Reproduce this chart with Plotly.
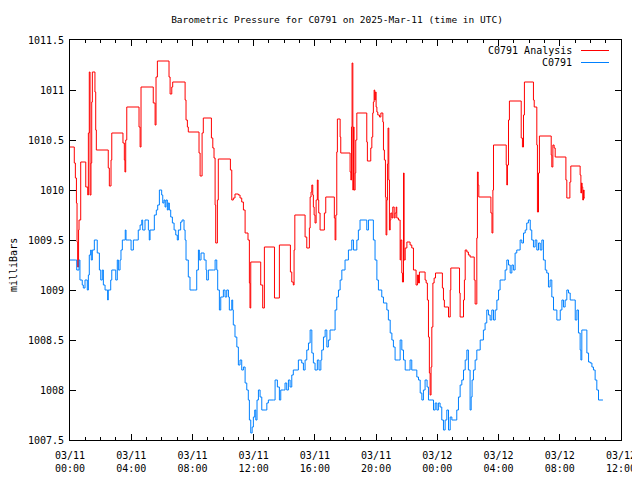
import pandas as pd
import plotly.graph_objects as go

# Hours since 2025-03-11 00:00 UTC and pressure (mb)
blue_hours = [0.0, 0.37, 0.44, 0.59, 0.65, 0.80, 0.87, 0.98, 1.13, 1.20, 1.26, 1.35, 1.39, 1.46, 1.59, 1.72, 1.78, 1.92, 2.01, 2.11,
              2.18, 2.29, 2.46, 2.50, 2.61, 2.66, 2.73, 2.88, 2.99, 3.09, 3.16, 3.27, 3.33, 3.42, 3.61, 3.66, 3.88, 3.99, 4.14, 4.29,
              4.46, 4.58, 4.69, 4.75, 4.90, 5.05, 5.12, 5.18, 5.23, 5.51, 5.64, 5.73, 5.84, 5.99, 6.06, 6.14, 6.21, 6.27, 6.36, 6.42,
              6.49, 6.58, 6.69, 6.80, 6.91, 7.01, 7.08, 7.23, 7.32, 7.45, 7.52, 7.58, 7.73, 7.84, 8.12, 8.28, 8.39, 8.45, 8.56, 8.76,
              8.89, 8.93, 9.04, 9.37, 9.48, 9.59, 9.65, 9.76, 9.85, 10.02, 10.13, 10.24, 10.35, 10.41, 10.57, 10.63, 10.67, 10.78, 10.90, 11.00,
              11.11, 11.22, 11.33, 11.44, 11.55, 11.65, 11.72, 11.81, 11.90, 11.98, 12.07, 12.14, 12.22, 12.31, 12.42, 12.53, 12.75, 12.86, 12.96, 13.29,
              13.40, 13.55, 13.68, 13.77, 13.94, 14.05, 14.16, 14.27, 14.38, 14.49, 14.59, 14.92, 15.14, 15.25, 15.36, 15.47, 15.58, 15.69, 15.80, 15.90,
              16.01, 16.16, 16.27, 16.39, 16.45, 16.56, 16.67, 16.78, 16.88, 16.99, 17.21, 17.32, 17.43, 17.54, 17.65, 17.76, 17.97, 18.19, 18.41, 18.52,
              18.74, 18.84, 18.95, 19.28, 19.39, 19.50, 19.72, 19.82, 19.93, 20.05, 20.15, 20.37, 20.48, 20.70, 20.80, 20.92, 21.03, 21.13, 21.24, 21.46,
              21.57, 21.68, 21.79, 21.90, 22.11, 22.22, 22.33, 22.55, 22.66, 22.77, 22.88, 22.99, 23.09, 23.20, 23.33, 23.42, 23.64, 23.75, 23.86, 23.97,
              24.07, 24.18, 24.29, 24.40, 24.51, 24.62, 24.73, 24.84, 24.95, 25.16, 25.27, 25.38, 25.49, 25.60, 25.71, 25.82, 25.93, 26.03, 26.14, 26.21,
              26.27, 26.36, 26.47, 26.58, 26.80, 27.01, 27.12, 27.23, 27.34, 27.45, 27.56, 27.67, 27.78, 27.89, 28.00, 28.10, 28.32, 28.43, 28.54, 28.65,
              28.76, 28.87, 28.97, 29.08, 29.19, 29.41, 29.52, 29.63, 29.74, 29.84, 29.95, 30.07, 30.17, 30.28, 30.39, 30.50, 30.61, 30.72, 30.83, 30.93,
              31.05, 31.15, 31.26, 31.37, 31.48, 31.59, 31.81, 31.96, 32.03, 32.14, 32.24, 32.35, 32.46, 32.57, 32.68, 32.90, 33.01, 33.12, 33.22, 33.33,
              33.38, 33.44, 33.66, 33.77, 33.88, 33.99, 34.10, 34.20, 34.31, 34.42, 34.53, 34.82]
blue_values = [1009.30, 1009.30, 1009.20, 1009.30, 1009.10, 1009.05, 1009.02, 1009.10, 1009.00, 1009.15, 1009.35, 1009.40, 1009.30, 1009.40, 1009.50, 1009.50, 1009.37, 1009.20, 1009.10, 1009.20,
               1009.05, 1009.00, 1008.90, 1009.00, 1009.00, 1009.10, 1009.20, 1009.20, 1009.10, 1009.30, 1009.20, 1009.30, 1009.40, 1009.50, 1009.60, 1009.50, 1009.50, 1009.40, 1009.50, 1009.50,
               1009.60, 1009.65, 1009.70, 1009.60, 1009.70, 1009.70, 1009.60, 1009.50, 1009.60, 1009.75, 1009.80, 1009.85, 1010.00, 1009.95, 1009.87, 1009.90, 1009.83, 1009.90, 1009.80, 1009.87,
               1009.80, 1009.73, 1009.67, 1009.60, 1009.55, 1009.50, 1009.60, 1009.68, 1009.70, 1009.60, 1009.50, 1009.30, 1009.13, 1009.00, 1009.00, 1009.20, 1009.40, 1009.30, 1009.37, 1009.30,
               1009.20, 1009.10, 1009.20, 1009.20, 1009.30, 1009.20, 1009.00, 1008.80, 1008.93, 1009.00, 1008.93, 1009.00, 1008.93, 1008.80, 1008.90, 1008.80, 1008.65, 1008.53, 1008.43, 1008.25,
               1008.30, 1008.20, 1008.23, 1008.07, 1008.00, 1007.90, 1007.70, 1007.57, 1007.63, 1007.73, 1007.80, 1007.70, 1007.90, 1008.00, 1007.93, 1007.80, 1007.80, 1007.87, 1007.90, 1007.90,
               1008.10, 1008.03, 1007.90, 1008.00, 1008.00, 1008.07, 1008.00, 1008.10, 1008.03, 1008.15, 1008.20, 1008.30, 1008.27, 1008.20, 1008.30, 1008.40, 1008.47, 1008.60, 1008.37, 1008.27,
               1008.20, 1008.30, 1008.20, 1008.30, 1008.40, 1008.53, 1008.60, 1008.43, 1008.50, 1008.60, 1008.60, 1008.80, 1008.93, 1009.00, 1009.10, 1009.20, 1009.30, 1009.40, 1009.50, 1009.40,
               1009.50, 1009.60, 1009.70, 1009.70, 1009.60, 1009.70, 1009.70, 1009.50, 1009.30, 1009.10, 1009.00, 1008.93, 1008.87, 1008.80, 1008.70, 1008.57, 1008.50, 1008.43, 1008.30, 1008.30,
               1008.50, 1008.40, 1008.30, 1008.20, 1008.20, 1008.30, 1008.20, 1008.20, 1008.13, 1008.10, 1007.97, 1007.90, 1008.00, 1008.10, 1008.03, 1007.90, 1007.90, 1007.80, 1007.87, 1007.80,
               1007.87, 1007.83, 1007.70, 1007.60, 1007.70, 1007.80, 1007.60, 1007.73, 1007.70, 1007.70, 1007.80, 1007.93, 1008.05, 1008.10, 1008.20, 1008.30, 1008.40, 1008.20, 1007.80, 1007.93,
               1008.10, 1008.20, 1008.30, 1008.40, 1008.50, 1008.60, 1008.67, 1008.80, 1008.75, 1008.70, 1008.80, 1008.70, 1008.80, 1008.90, 1009.00, 1009.10, 1009.10, 1009.20, 1009.30, 1009.25,
               1009.17, 1009.25, 1009.20, 1009.37, 1009.40, 1009.50, 1009.47, 1009.57, 1009.60, 1009.67, 1009.70, 1009.60, 1009.50, 1009.43, 1009.50, 1009.40, 1009.47, 1009.40, 1009.50, 1009.30,
               1009.20, 1009.17, 1009.03, 1009.10, 1008.93, 1008.80, 1008.70, 1008.70, 1008.80, 1008.90, 1008.83, 1008.90, 1009.00, 1008.97, 1008.90, 1008.90, 1008.70, 1008.80, 1008.57, 1008.40,
               1008.30, 1008.60, 1008.60, 1008.37, 1008.28, 1008.27, 1008.23, 1008.20, 1008.10, 1008.00, 1007.90, 1007.90]

red_hours = [0.0, 0.28, 0.35, 0.42, 0.46, 0.50, 0.56, 0.59, 0.70, 1.03, 1.16, 1.20, 1.26, 1.31, 1.37, 1.42, 1.46, 1.63, 1.68, 1.72,
             2.50, 2.57, 2.68, 2.73, 3.46, 3.55, 3.59, 3.64, 3.71, 4.51, 4.58, 4.64, 5.44, 5.56, 5.62, 5.71, 6.47, 6.54, 6.65, 6.71,
             7.52, 7.58, 7.67, 7.73, 8.43, 8.50, 8.63, 8.71, 9.24, 9.33, 9.41, 9.48, 9.52, 9.63, 9.69, 10.48, 10.57, 10.67, 10.78, 11.00,
             11.11, 11.22, 11.33, 11.44, 11.63, 11.72, 11.76, 11.81, 12.46, 12.59, 12.70, 13.36, 13.68, 14.40, 14.49, 14.59, 14.64, 14.69, 15.36, 15.47,
             15.64, 15.69, 15.75, 15.80, 15.86, 15.90, 15.95, 16.01, 16.08, 16.16, 16.21, 16.25, 16.34, 16.62, 16.71, 17.27, 17.32, 17.37, 17.43, 17.47,
             17.65, 17.69, 18.30, 18.35, 18.39, 18.43, 18.48, 18.52, 18.56, 18.63, 18.67, 18.74, 19.39, 19.43, 19.65, 19.72, 19.78, 19.82, 19.87, 19.91,
             19.95, 20.00, 20.05, 20.11, 20.22, 20.31, 20.44, 20.48, 20.54, 20.61, 20.65, 20.70, 20.74, 20.78, 20.83, 20.87, 20.92, 20.96, 21.03, 21.09,
             21.18, 21.24, 21.31, 21.35, 21.46, 21.57, 21.61, 21.68, 21.72, 21.79, 21.83, 21.90, 22.01, 22.22, 22.33, 22.44, 22.61, 22.70, 22.77, 22.83,
             23.20, 23.27, 23.35, 23.42, 23.48, 23.53, 23.59, 23.64, 23.71, 23.79, 23.88, 24.33, 24.40, 24.46, 24.73, 24.84, 24.88, 25.45, 25.49, 25.71,
             25.77, 25.82, 25.93, 26.03, 26.14, 26.41, 26.47, 26.58, 26.62, 26.67, 26.71, 27.50, 27.57, 27.63, 27.67, 28.50, 28.54, 28.58, 28.65, 28.71,
             29.48, 29.56, 29.63, 29.69, 30.28, 30.33, 30.50, 30.54, 30.61, 30.67, 31.44, 31.48, 31.55, 31.63, 31.70, 32.40, 32.46, 32.66, 32.72, 33.33,
             33.38, 33.42, 33.46, 33.50, 33.55, 33.59, 33.64]
red_values = [1010.43, 1010.27, 1010.12, 1009.87, 1009.48, 1009.23, 1009.60, 1009.70, 1010.28, 1010.03, 1009.95, 1010.57, 1011.18, 1009.95, 1010.27, 1010.88, 1011.18, 1010.98, 1010.60, 1010.40,
              1010.22, 1010.04, 1010.30, 1010.57, 1010.47, 1010.30, 1010.18, 1010.50, 1010.83, 1010.63, 1010.43, 1011.03, 1010.87, 1010.65, 1011.13, 1011.29, 1011.13, 1010.96, 1011.03, 1011.08,
              1010.90, 1010.70, 1010.63, 1010.58, 1010.37, 1010.14, 1010.57, 1010.72, 1010.52, 1010.42, 1010.32, 1009.85, 1009.47, 1009.90, 1010.31, 1010.20, 1009.90, 1009.92, 1009.96, 1009.95,
              1009.92, 1009.88, 1009.80, 1009.57, 1009.50, 1009.07, 1008.82, 1009.28, 1009.05, 1008.82, 1009.43, 1008.92, 1009.45, 1009.18, 1009.08, 1009.05, 1009.40, 1009.75, 1009.53, 1009.42,
              1009.62, 1009.93, 1009.98, 1010.05, 1009.95, 1009.83, 1009.75, 1009.67, 1009.90, 1010.10, 1009.90, 1009.77, 1009.60, 1009.77, 1009.93, 1009.72, 1009.50, 1009.75, 1010.38, 1010.71,
              1010.53, 1010.37, 1010.18, 1010.10, 1010.63, 1011.27, 1010.00, 1010.63, 1010.00, 1010.17, 1010.50, 1010.77, 1010.48, 1010.29, 1010.42, 1010.53, 1010.77, 1010.88, 1011.00, 1010.90,
              1010.98, 1010.83, 1010.78, 1010.75, 1010.73, 1010.77, 1010.68, 1010.40, 1010.30, 1009.93, 1009.55, 1009.90, 1010.26, 1010.62, 1010.10, 1009.60, 1009.70, 1009.77, 1009.72, 1009.83,
              1009.72, 1009.77, 1009.83, 1009.72, 1009.70, 1009.30, 1009.50, 1009.17, 1009.08, 1010.17, 1009.30, 1009.42, 1009.48, 1009.45, 1009.42, 1009.20, 1009.05, 1009.15, 1009.07, 1009.18,
              1009.10, 1009.07, 1008.90, 1008.53, 1008.17, 1007.95, 1008.23, 1008.63, 1009.07, 1009.12, 1009.17, 1009.02, 1008.90, 1008.83, 1008.73, 1009.00, 1009.22, 1008.97, 1008.73, 1008.90,
              1009.10, 1009.40, 1009.38, 1009.35, 1009.33, 1009.10, 1008.86, 1009.52, 1010.18, 1010.05, 1009.93, 1009.77, 1009.57, 1010.00, 1010.45, 1010.25, 1010.05, 1010.25, 1010.70, 1010.89,
              1010.52, 1010.43, 1010.75, 1011.08, 1010.90, 1010.83, 1010.45, 1009.78, 1010.17, 1010.54, 1010.35, 1010.23, 1010.45, 1010.42, 1010.33, 1010.10, 1009.92, 1010.08, 1010.24, 1010.15,
              1009.97, 1010.07, 1010.03, 1009.90, 1010.00, 1009.92, 1009.92]

tick_hours = [0, 4, 8, 12, 16, 20, 24, 28, 32, 36]
tick_labels = ["03/11<br>00:00", "03/11<br>04:00", "03/11<br>08:00", "03/11<br>12:00", "03/11<br>16:00",
               "03/11<br>20:00", "03/12<br>00:00", "03/12<br>04:00", "03/12<br>08:00", "03/12<br>12:00"]
y_ticks = [1007.5, 1008, 1008.5, 1009, 1009.5, 1010, 1010.5, 1011, 1011.5]
y_tick_labels = ["1007.5", "1008", "1008.5", "1009", "1009.5", "1010", "1010.5", "1011", "1011.5"]
series_names = ["C0791 Analysis", "C0791"]
series_colors = ["#ff0000", "#0080ff"]

start = pd.Timestamp("2025-03-11 00:00")
to_time = lambda hrs: [start + pd.Timedelta(hours=h) for h in hrs]

FONT = "DejaVu Sans Mono"
fig = go.Figure()
fig.add_trace(go.Scatter(x=to_time(red_hours), y=red_values, mode="lines", line=dict(color=series_colors[0], width=1, shape="hv"),
                         name=series_names[0], showlegend=False))
fig.add_trace(go.Scatter(x=to_time(blue_hours), y=blue_values, mode="lines", line=dict(color=series_colors[1], width=1, shape="hv"),
                         name=series_names[1], showlegend=False))

axis_common = dict(showline=True, linecolor="black", linewidth=1, mirror="allticks", ticks="inside",
                   tickcolor="black", showgrid=False, zeroline=False,
                   tickfont=dict(family=FONT, size=10, color="black"))

fig.update_xaxes(range=[start, start + pd.Timedelta(hours=36)], tickvals=to_time(tick_hours), ticktext=tick_labels,
                 ticklen=6, ticklabelstandoff=6,
                 minor=dict(ticks="inside", ticklen=3, dtick=3600000, tickcolor="black", showgrid=False),
                 **axis_common)
fig.update_yaxes(range=[1007.5, 1011.5], tickvals=y_ticks, ticktext=y_tick_labels,
                 ticklen=6, ticklabelstandoff=3, **axis_common)

# The page body adds an 8px offset; margins compensate so the plot box sits at x 70-621, y 40-440.
annotations = [
    dict(text="milliBars", textangle=-90, xref="paper", yref="paper", x=(13 - 70) / 551, y=(440 - 265) / 400,
         showarrow=False, xanchor="center", yanchor="middle", font=dict(family=FONT, size=10, color="black")),
]
shapes = []
legend_y = [(440 - 50.5) / 400, (440 - 62.5) / 400]
for name, col, ly in zip(series_names, series_colors, legend_y):
    annotations.append(dict(text=name, xref="paper", yref="paper", x=(574 - 70) / 551, y=ly, showarrow=False,
                            xanchor="right", yanchor="middle", font=dict(family=FONT, size=10, color="black")))
    shapes.append(dict(type="line", xref="paper", yref="paper", x0=(581 - 70) / 551, x1=(609 - 70) / 551, y0=ly, y1=ly,
                       line=dict(color=col, width=1)))

fig.update_layout(
    width=640, height=480,
    margin=dict(l=62, r=27, t=32, b=48),
    paper_bgcolor="white", plot_bgcolor="white",
    title=dict(text="Barometric Pressure for C0791 on 2025-Mar-11 (time in UTC)", x=(337 - 8) / 640,
               xanchor="center", y=1 - (20 - 8) / 480, yanchor="middle",
               font=dict(family=FONT, size=9.5, color="black")),
    annotations=annotations, shapes=shapes,
    font=dict(family=FONT, size=10, color="black"),
)

fig.write_html("out.html")
